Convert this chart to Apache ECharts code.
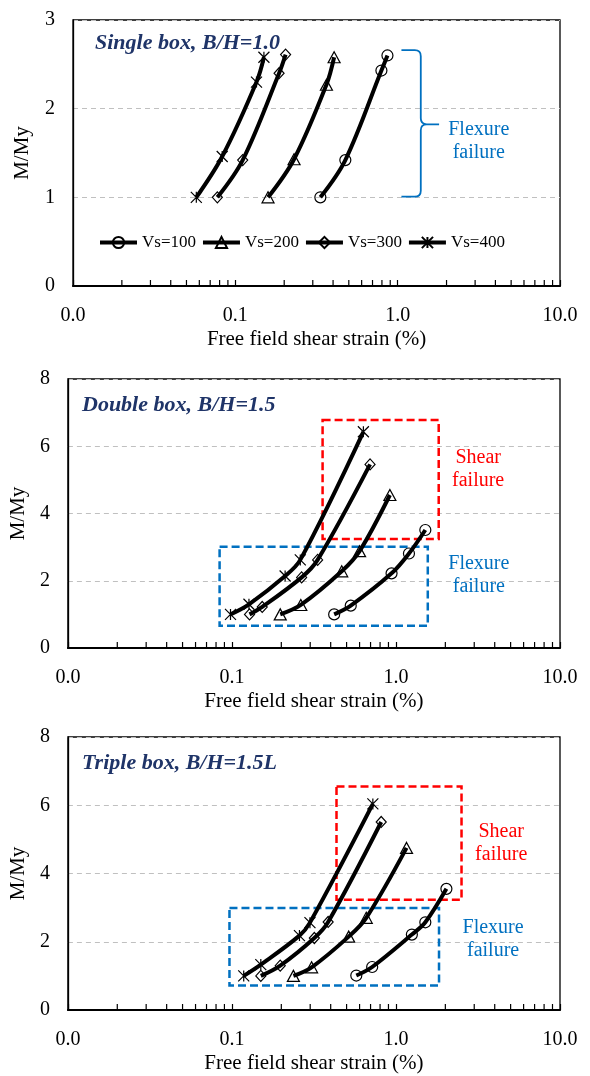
<!DOCTYPE html>
<html><head><meta charset="utf-8">
<script src="https://cdn.jsdelivr.net/npm/echarts@6/dist/echarts.min.js"></script>
<style>html,body{margin:0;padding:0;background:#fff}#c{width:590px;height:1076px}</style>
</head><body><div id="c"></div>
<script>
// ---------- data ----------
const seriesNames = ['Vs=100', 'Vs=200', 'Vs=300', 'Vs=400'];
const panelTitles = ['Single box, B/H=1.0', 'Double box, B/H=1.5', 'Triple box, B/H=1.5L'];
const yMaxes = [3, 8, 8];
const yIntervals = [1, 2, 2];
const xTickLabelDigits = 1;
const minorTicks = [0.02,0.03,0.04,0.05,0.06,0.07,0.08,0.09,0.2,0.3,0.4,0.5,0.6,0.7,0.8,0.9,2,3,4,5,6,7,8,9];

// Panel 1 : Single box
const single100x = [0.334, 0.476, 0.794, 0.865];
const single100y = [1.0, 1.42, 2.43, 2.60];
const single200x = [0.159, 0.230, 0.364, 0.406];
const single200y = [1.0, 1.43, 2.27, 2.58];
const single300x = [0.0775, 0.111, 0.186, 0.204];
const single300y = [1.0, 1.42, 2.40, 2.61];
const single400x = [0.0575, 0.083, 0.135, 0.150];
const single400y = [1.0, 1.46, 2.30, 2.58];

// Panel 2 : Double box
const double100x = [0.42, 0.53, 0.94, 1.20, 1.51];
const double100y = [1.0, 1.26, 2.22, 2.81, 3.51];
const double200x = [0.197, 0.263, 0.467, 0.60, 0.918];
const double200y = [1.0, 1.28, 2.28, 2.88, 4.55];
const double300x = [0.128, 0.153, 0.266, 0.333, 0.695];
const double300y = [1.0, 1.22, 2.10, 2.62, 5.46];
const double400x = [0.098, 0.127, 0.211, 0.261, 0.633];
const double400y = [1.0, 1.30, 2.14, 2.62, 6.43];

// Panel 3 : Triple box
const triple100x = [0.573, 0.716, 1.25, 1.51, 2.03];
const triple100y = [1.01, 1.26, 2.21, 2.57, 3.55];
const triple200x = [0.237, 0.306, 0.515, 0.659, 1.16];
const triple200y = [1.0, 1.25, 2.15, 2.70, 4.75];
const triple300x = [0.150, 0.197, 0.318, 0.386, 0.813];
const triple300y = [1.0, 1.30, 2.11, 2.58, 5.51];
const triple400x = [0.118, 0.150, 0.258, 0.299, 0.723];
const triple400y = [1.0, 1.33, 2.18, 2.56, 6.04];

// Annotation regions (data coords): [x1, y1, x2, y2]
const doubleShearBox = [0.357, 3.24, 1.822, 6.78];
const doubleFlexBox = [0.0841, 0.66, 1.563, 3.01];
const tripleShearBox = [0.434, 3.23, 2.51, 6.55];
const tripleFlexBox = [0.0966, 0.72, 1.83, 2.99];
// brace in panel 1: [xLeft, yTop, xSpine, yBottom, xTip, yMid]
const singleBrace = [1.055, 2.66, 1.388, 1.007, 1.80, 1.823];
// annotation texts: [x, y]
const singleFlexText = [3.16, 1.63];
const doubleShearText = [3.17, 5.32];
const doubleFlexText = [3.2, 2.17];
const tripleShearText = [4.38, 4.90];
const tripleFlexText = [3.91, 2.06];

// ---------- styling ----------
const FONT = '"Liberation Serif", "Times New Roman", serif';
const BLUE = '#0070C0', RED = '#FF0000', NAVY = '#1F3468';
const symbols = {
  'Vs=100': {symbol: 'circle', size: 11},
  'Vs=200': {symbol: 'triangle', size: [12, 11]},
  'Vs=300': {symbol: 'diamond', size: [10, 11]},
  'Vs=400': {symbol: 'path://M0,0L10,10M10,0L0,10M5,0L5,10', size: 11}
};
const grids = [
  {left: 73, right: 30, top: 20, height: 266},
  {left: 66, right: 30, top: 379, height: 269},
  {left: 65, right: 30, top: 737, height: 273}
];
const titleTops = [32, 394, 752];
const titleLefts = [95, 82, 82];
const yNameGaps = [40, 38, 38];

const panelData = [
  [[single100x, single100y], [single200x, single200y], [single300x, single300y], [single400x, single400y]],
  [[double100x, double100y], [double200x, double200y], [double300x, double300y], [double400x, double400y]],
  [[triple100x, triple100y], [triple200x, triple200y], [triple300x, triple300y], [triple400x, triple400y]]
];

function zip(xs, ys) { return xs.map((x, i) => [x, ys[i]]); }

const xAxes = grids.map((g, i) => ({
  type: 'log', logBase: 10, min: 0.01, max: 10, gridIndex: i,
  axisLine: {show: true, lineStyle: {color: '#000', width: 2}},
  axisTick: {show: true, inside: true, length: 6, lineStyle: {color: '#000', width: 1.2}},
  axisLabel: {formatter: v => Number(v).toFixed(xTickLabelDigits), fontFamily: FONT, fontSize: 20, color: '#000', margin: 20},
  splitLine: {show: false},
  name: 'Free field shear strain (%)', nameLocation: 'middle', nameGap: 43,
  nameTextStyle: {fontFamily: FONT, fontSize: 21, color: '#000'}
}));
const yAxes = grids.map((g, i) => ({
  type: 'value', min: 0, max: yMaxes[i], interval: yIntervals[i], gridIndex: i,
  axisLine: {show: true, lineStyle: {color: '#000', width: 1.3}},
  axisTick: {show: false},
  axisLabel: {fontFamily: FONT, fontSize: 20, color: '#000', margin: 18},
  splitLine: {show: true, lineStyle: {color: '#c0c0c0', type: [5, 4], width: 1}},
  name: 'M/My', nameLocation: 'middle', nameGap: yNameGaps[i], nameRotate: 90,
  nameTextStyle: {fontFamily: FONT, fontSize: 21, color: '#000'}
}));

const series = [];
panelData.forEach((panel, pi) => {
  panel.forEach((xy, si) => {
    const name = seriesNames[si];
    series.push({
      type: 'line', name, xAxisIndex: pi, yAxisIndex: pi,
      data: zip(xy[0], xy[1]), smooth: 0.35,
      symbol: symbols[name].symbol, symbolSize: symbols[name].size,
      lineStyle: {color: '#000', width: 4},
      itemStyle: {color: 'rgba(0,0,0,0)', borderColor: '#000', borderWidth: 1.2},
      emphasis: {disabled: true}, z: 5
    });
  });
  // minor ticks
  series.push({
    type: 'custom', xAxisIndex: pi, yAxisIndex: pi, silent: true, z: 4,
    data: minorTicks.map(v => [v, 0]),
    renderItem: (params, api) => {
      const p = api.coord([api.value(0), 0]);
      return {type: 'line', shape: {x1: p[0], y1: p[1], x2: p[0], y2: p[1] - 6}, style: {stroke: '#000', lineWidth: 1.2}};
    }
  });
});

function boxSeries(pi, box, color) {
  return {
    type: 'custom', xAxisIndex: pi, yAxisIndex: pi, silent: true, z: 3,
    dimensions: ['x1', 'y1', 'x2', 'y2'], encode: {x: [0, 2], y: [1, 3]},
    data: [box],
    renderItem: (params, api) => {
      const a = api.coord([api.value(0), api.value(1)]);
      const b = api.coord([api.value(2), api.value(3)]);
      return {type: 'rect', shape: {x: Math.min(a[0], b[0]), y: Math.min(a[1], b[1]), width: Math.abs(b[0] - a[0]), height: Math.abs(b[1] - a[1])},
        style: {fill: 'none', stroke: color, lineWidth: 2.5, lineDash: [8, 4]}};
    }
  };
}
function textSeries(pi, pos, txt, color) {
  return {
    type: 'custom', xAxisIndex: pi, yAxisIndex: pi, silent: true, z: 6,
    data: [pos],
    renderItem: (params, api) => {
      const p = api.coord([api.value(0), api.value(1)]);
      return {type: 'text', x: p[0], y: p[1], style: {text: txt, fill: color, font: '20px ' + FONT, align: 'center', verticalAlign: 'middle', lineHeight: 23}};
    }
  };
}
series.push(boxSeries(1, doubleShearBox, RED), boxSeries(1, doubleFlexBox, BLUE),
            boxSeries(2, tripleShearBox, RED), boxSeries(2, tripleFlexBox, BLUE));
series.push(textSeries(0, singleFlexText, 'Flexure\nfailure', BLUE),
            textSeries(1, doubleShearText, 'Shear\nfailure', RED),
            textSeries(1, doubleFlexText, 'Flexure\nfailure', BLUE),
            textSeries(2, tripleShearText, 'Shear\nfailure', RED),
            textSeries(2, tripleFlexText, 'Flexure\nfailure', BLUE));
series.push({
  type: 'custom', xAxisIndex: 0, yAxisIndex: 0, silent: true, z: 3,
  data: [singleBrace],
  renderItem: (params, api) => {
    const tl = api.coord([api.value(0), api.value(1)]);
    const sb = api.coord([api.value(2), api.value(3)]);
    const tm = api.coord([api.value(4), api.value(5)]);
    const xL = tl[0], yT = tl[1], xS = sb[0], yB = sb[1], xT = tm[0], yM = tm[1], r = 6;
    const d = `M${xL},${yT}L${xS - r},${yT}Q${xS},${yT} ${xS},${yT + r}L${xS},${yM - r}Q${xS},${yM} ${xS + r},${yM}L${xT},${yM}` +
              `M${xS + r},${yM}Q${xS},${yM} ${xS},${yM + r}L${xS},${yB - r}Q${xS},${yB} ${xS - r},${yB}L${xL},${yB}`;
    return {type: 'path', shape: {pathData: d}, style: {fill: 'none', stroke: BLUE, lineWidth: 1.8}};
  }
});

const option = {
  backgroundColor: '#fff',
  animation: false,
  title: panelTitles.map((t, i) => ({
    text: t, left: titleLefts[i], top: titleTops[i], padding: 0,
    textStyle: {fontFamily: FONT, fontStyle: 'italic', fontWeight: 'bold', fontSize: 22, color: NAVY}
  })),
  legend: {
    data: seriesNames, left: 98, top: 234, itemWidth: 37, itemHeight: 14, itemGap: 5, padding: 0,
    lineStyle: {width: 4},
    textStyle: {fontFamily: FONT, fontSize: 17, color: '#000'},
    selectedMode: false
  },
  grid: grids.map(g => Object.assign({show: true, borderColor: '#000', borderWidth: 1.3, backgroundColor: 'transparent'}, g)),
  xAxis: xAxes,
  yAxis: yAxes,
  series
};
const chart = echarts.init(document.getElementById('c'), null, {renderer: 'canvas'});
chart.setOption(option);
</script></body></html>
